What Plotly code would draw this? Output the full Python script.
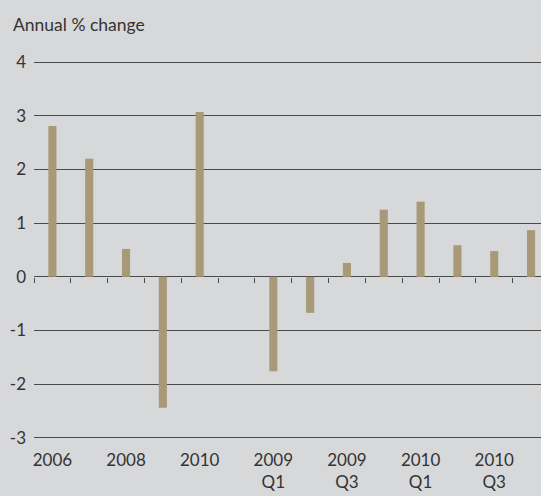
import plotly.graph_objects as go

categories = ["2006", "2007", "2008", "2009", "2010", "gap",
              "2009 Q1", "2009 Q2", "2009 Q3", "2009 Q4",
              "2010 Q1", "2010 Q2", "2010 Q3", "2010 Q4"]
values = [2.81, 2.2, 0.52, -2.44, 3.07, None,
          -1.76, -0.67, 0.26, 1.25,
          1.40, 0.59, 0.48, 0.87]
tick_cats = ["2006", "2008", "2010", "2009 Q1", "2009 Q3", "2010 Q1", "2010 Q3"]
tick_text = ["2006", "2008", "2010", "2009<br>Q1", "2009<br>Q3", "2010<br>Q1", "2010<br>Q3"]
y_ticks = [-3, -2, -1, 0, 1, 2, 3, 4]
y_text = ["-3", "-2", "-1", "0", "1", "2", "3", "4"]

BG = "#d7d8da"
GRID = "#4a4a4a"
BAR = "#a89a79"
TXT = "#333333"
FONT = "Lato"

fig = go.Figure()
fig.add_trace(go.Bar(x=categories, y=values, marker=dict(color=BAR, line=dict(width=0)),
                     showlegend=False, hoverinfo="skip"))
fig.add_trace(go.Scatter(x=categories, y=[None] * len(categories), xaxis="x2",
                         mode="markers", showlegend=False, hoverinfo="skip"))

fig.update_layout(
    width=541, height=496,
    paper_bgcolor=BG, plot_bgcolor=BG,
    margin=dict(l=34, r=0, t=61, b=57, autoexpand=False),
    bargap=0.78,
    font=dict(family=FONT, color=TXT, size=17),
    xaxis=dict(type="category", categoryorder="array", categoryarray=categories,
               range=[-0.5, 13.27], showgrid=False, zeroline=False, showline=False,
               ticks="", tickmode="array", tickvals=tick_cats, ticktext=tick_text,
               ticklabelstandoff=9, tickfont=dict(size=17, color=TXT)),
    xaxis2=dict(type="category", categoryorder="array", categoryarray=categories,
                range=[-0.5, 13.27], overlaying="x", anchor="free",
                position=3.02 / 7.04,
                side="bottom", showgrid=False, zeroline=False, showline=False,
                ticks="outside", tickson="boundaries", ticklen=5, tickwidth=1.2,
                tickcolor=GRID, showticklabels=False),
    yaxis=dict(range=[-3.02, 4.02], tickmode="array", tickvals=y_ticks, ticktext=y_text,
               showgrid=True, gridcolor=GRID, gridwidth=1.2,
               zeroline=True, zerolinecolor=GRID, zerolinewidth=1.2,
               showline=False, ticks="", ticklabelstandoff=7,
               tickfont=dict(size=17, color=TXT)),
    annotations=[dict(text="Annual % change", xref="paper", yref="paper",
                      x=-23 / 507, y=1, xanchor="left", yanchor="bottom", yshift=24,
                      showarrow=False, font=dict(size=17.5, color=TXT, family=FONT))],
)

fig.write_html("out.html", config={"displayModeBar": False},
               post_script="document.body.style.margin='0';")
